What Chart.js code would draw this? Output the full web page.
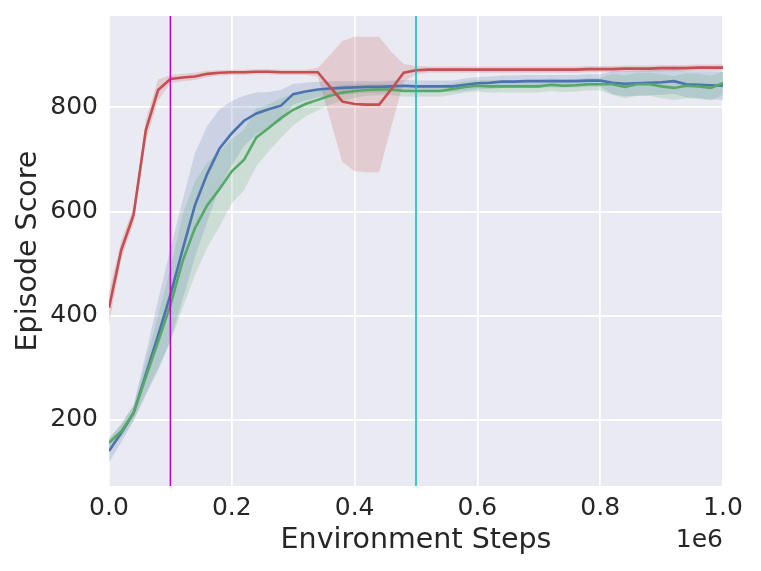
<!DOCTYPE html>
<html>
<head>
<meta charset="utf-8">
<script src="https://cdn.jsdelivr.net/npm/chart.js@4.4.1/dist/chart.umd.min.js"></script>
<style>html,body{margin:0;padding:0;background:#fff;}canvas{display:block;}</style>
</head>
<body>
<canvas id="c" width="761" height="571"></canvas>
<script>
// Environment steps (x values)
const steps = [0,20000,40000,60000,80000,100000,120000,140000,160000,180000,
  200000,220000,240000,260000,280000,300000,320000,340000,360000,380000,
  400000,420000,440000,460000,480000,500000,520000,540000,560000,580000,
  600000,620000,640000,660000,680000,700000,720000,740000,760000,780000,
  800000,820000,840000,860000,880000,900000,920000,940000,960000,980000,1000000];

// Red series: mean and spread
const redMean = [415,526,593,756,833,854,857,859,864,866,
  867,867,868,868,867,867,867,867,839,811,
  806,805,805,835,866,871,872,872,872,872,
  872,872,872,872,872,872,872,872,872,873,
  873,873,874,874,874,875,875,875,876,876,876];
const redStd = [30,18,15,20,20,8,7,7,6,5,
  5,5,5,5,5,5,5,8,61,116,
  129,130,130,71,17,8,6,6,6,6,
  6,6,6,6,6,6,6,6,6,6,
  6,6,6,6,6,6,6,6,6,6,6];

// Blue series
const blueMean = [140,175,213,287,362,440,527,612,672,721,
  750,774,788,796,803,825,830,834,836,837,
  838,839,839,840,841,840,840,840,840,843,
  846,847,849,849,850,850,850,850,850,851,
  851,847,845,846,847,848,850,844,843,842,841];
const blueStd = [22,18,15,40,68,88,95,100,92,75,
  62,48,40,33,30,20,17,15,14,13,
  12,11,11,11,11,11,11,11,11,12,
  12,12,12,12,12,12,12,12,12,12,
  12,22,24,24,24,24,24,25,26,27,27];

// Green series
const greenMean = [156,178,213,282,350,420,505,568,612,643,
  677,699,742,760,779,795,806,814,822,828,
  831,833,834,834,831,831,831,831,835,839,
  841,840,840,840,840,840,843,841,842,844,
  844,844,839,844,844,840,837,841,840,837,846];
const greenStd = [10,12,15,30,50,70,90,90,82,72,
  62,58,55,45,38,30,24,20,17,15,
  13,11,11,11,11,11,11,11,11,11,
  11,12,12,12,12,12,12,12,12,12,
  12,20,22,22,22,23,23,24,24,24,22];

// Vertical marker lines
const markerSteps = [100000, 500000];
const markerColors = ['#BF00BF', '#00BFBF'];

// Axis ticks
const xTicks = [0,200000,400000,600000,800000,1000000];
const yTicks = [200,400,600,800];
const yMin = 73, yMax = 975;

const pts = (arr) => arr.map((v,i) => ({x: steps[i], y: v}));
const upper = (m,s) => m.map((v,i) => v + s[i]);
const lower = (m,s) => m.map((v,i) => v - s[i]);

const RED = '#C44E52', BLUE = '#4C72B0', GREEN = '#55A868';

function lineDs(data, color) {
  return {data: pts(data), borderColor: color, borderWidth: 2.6, pointRadius: 0, fill: false, tension: 0};
}
function bandUp(m, s, color) {
  return {data: pts(upper(m,s)), borderWidth: 0, borderColor: 'rgba(0,0,0,0)', pointRadius: 0, fill: '+1', backgroundColor: color, tension: 0};
}
function bandLo(m, s) {
  return {data: pts(lower(m,s)), borderWidth: 0, borderColor: 'rgba(0,0,0,0)', pointRadius: 0, fill: false, tension: 0};
}

const FONT = 'DejaVu Sans';
const TXT = '#262626';

const bgPlugin = {
  id: 'bg',
  beforeDraw(chart) {
    const a = chart.chartArea, ctx = chart.ctx;
    ctx.save();
    ctx.fillStyle = '#EAEAF2';
    ctx.fillRect(a.left, a.top, a.right - a.left, a.bottom - a.top);
    ctx.restore();
  },
  afterDatasetsDraw(chart) {
    const a = chart.chartArea, ctx = chart.ctx, xs = chart.scales.x;
    ctx.save();
    markerSteps.forEach((s, k) => {
      const px = xs.getPixelForValue(s);
      ctx.strokeStyle = markerColors[k];
      ctx.lineWidth = 1.5;
      ctx.beginPath();
      ctx.moveTo(px, a.top);
      ctx.lineTo(px, a.bottom);
      ctx.stroke();
    });
    ctx.restore();
  },
  afterDraw(chart) {
    const a = chart.chartArea, ctx = chart.ctx;
    ctx.save();
    ctx.font = '25px "' + FONT + '"';
    ctx.fillStyle = TXT;
    ctx.textAlign = 'right';
    ctx.textBaseline = 'alphabetic';
    ctx.fillText('1e6', a.right, 547);
    ctx.restore();
  }
};

new Chart(document.getElementById('c'), {
  type: 'line',
  data: {
    datasets: [
      lineDs(redMean, RED),
      lineDs(greenMean, GREEN),
      lineDs(blueMean, BLUE),
      bandUp(redMean, redStd, 'rgba(196,78,82,0.2)'),
      bandLo(redMean, redStd),
      bandUp(greenMean, greenStd, 'rgba(85,168,104,0.2)'),
      bandLo(greenMean, greenStd),
      bandUp(blueMean, blueStd, 'rgba(76,114,176,0.2)'),
      bandLo(blueMean, blueStd)
    ]
  },
  options: {
    responsive: false,
    animation: false,
    layout: {padding: {top: 16, right: 38, left: 0, bottom: 0}},
    plugins: {legend: {display: false}, tooltip: {enabled: false}},
    scales: {
      x: {
        type: 'linear', min: 0, max: 1000000,
        afterBuildTicks: (s) => { s.ticks = xTicks.map(v => ({value: v})); },
        afterFit: (s) => { s.height = 85; s.paddingLeft = 0; s.paddingRight = 0; },
        ticks: {
          padding: 7, color: TXT, font: {family: FONT, size: 25},
          maxRotation: 0, autoSkip: false,
          callback: (v) => (v / 1e6).toFixed(1)
        },
        grid: {color: '#FFFFFF', lineWidth: 1.7, drawTicks: false},
        border: {display: false},
        title: {display: true, text: 'Environment Steps', color: TXT,
          font: {family: FONT, size: 28.5, lineHeight: 1.2}, padding: {top: 0, bottom: 13}}
      },
      y: {
        type: 'linear', min: yMin, max: yMax,
        afterBuildTicks: (s) => { s.ticks = yTicks.map(v => ({value: v})); },
        afterFit: (s) => { s.width = 109; s.paddingTop = 0; s.paddingBottom = 0; },
        ticks: {padding: 11, color: TXT, font: {family: FONT, size: 25}},
        grid: {color: '#FFFFFF', lineWidth: 1.7, drawTicks: false},
        border: {display: false},
        title: {display: true, text: 'Episode Score', color: TXT,
          font: {family: FONT, size: 28.5, lineHeight: 1.2}, padding: {top: 11, bottom: 0}}
      }
    }
  },
  plugins: [bgPlugin]
});
</script>
</body>
</html>
